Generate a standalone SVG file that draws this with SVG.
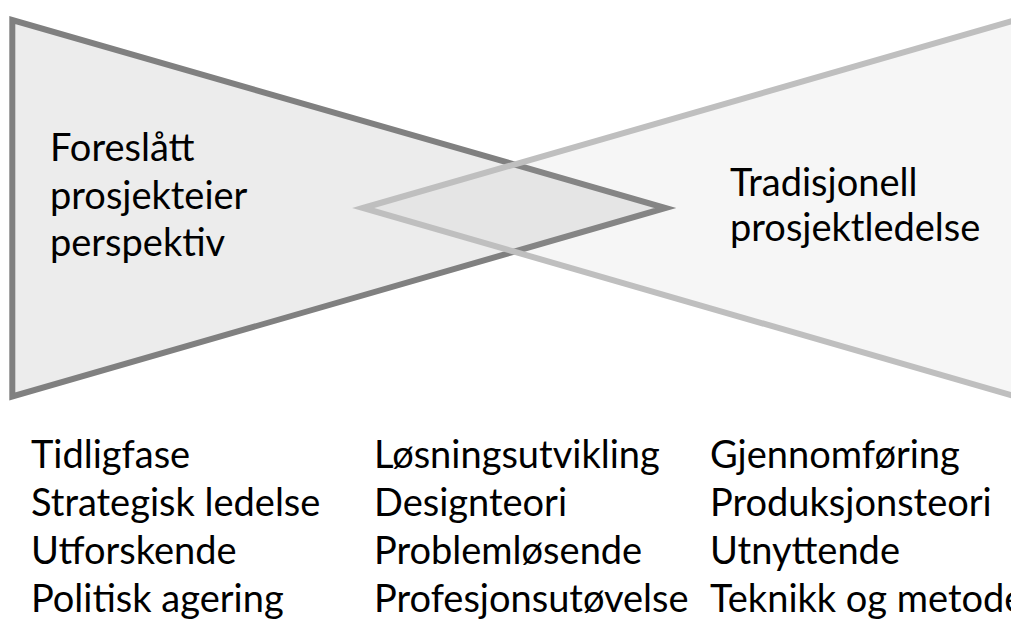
<svg xmlns="http://www.w3.org/2000/svg" width="1011" height="623" viewBox="0 0 1011 623">
<style>
text{font-family:Lato,"Carlito","Liberation Sans",sans-serif;fill:#000;font-size:38px}
.left{fill:#ececec;stroke:#808080;stroke-width:6}
.right{fill:rgb(174,174,174);fill-opacity:0.11;stroke:#bfbfbf;stroke-width:6}
</style>
<rect width="1011" height="623" fill="#fff"/>
<g id="left-triangle">
<polygon class="left" points="12.3,20 12.3,396.5 665.5,208"/>
</g>
<g id="right-triangle">
<polygon class="right" points="363,208 1016,20 1016,396.5"/>
</g>
<g id="connectors"></g>
<g id="label-left">
<text x="50" y="161">Foreslått</text>
<text x="50" y="208.5">prosjekteier</text>
<text x="50" y="256">perspektiv</text>
</g>
<g id="label-right">
<text x="730" y="196">Tradisjonell</text>
<text x="730" y="241">prosjektledelse</text>
</g>
<g id="col1">
<text x="31" y="467.5">Tidligfase</text>
<text x="31" y="515.5">Strategisk ledelse</text>
<text x="31" y="563.5">Utforskende</text>
<text x="31" y="611.5">Politisk agering</text>
</g>
<g id="col2">
<text x="374" y="467.5">Løsningsutvikling</text>
<text x="374" y="515.5">Designteori</text>
<text x="374" y="563.5">Problemløsende</text>
<text x="374" y="611.5">Profesjonsutøvelse</text>
</g>
<g id="col3">
<text x="710" y="467.5">Gjennomføring</text>
<text x="710" y="515.5">Produksjonsteori</text>
<text x="710" y="563.5">Utnyttende</text>
<text x="710" y="611.5">Teknikk og metode</text>
</g>
</svg>
